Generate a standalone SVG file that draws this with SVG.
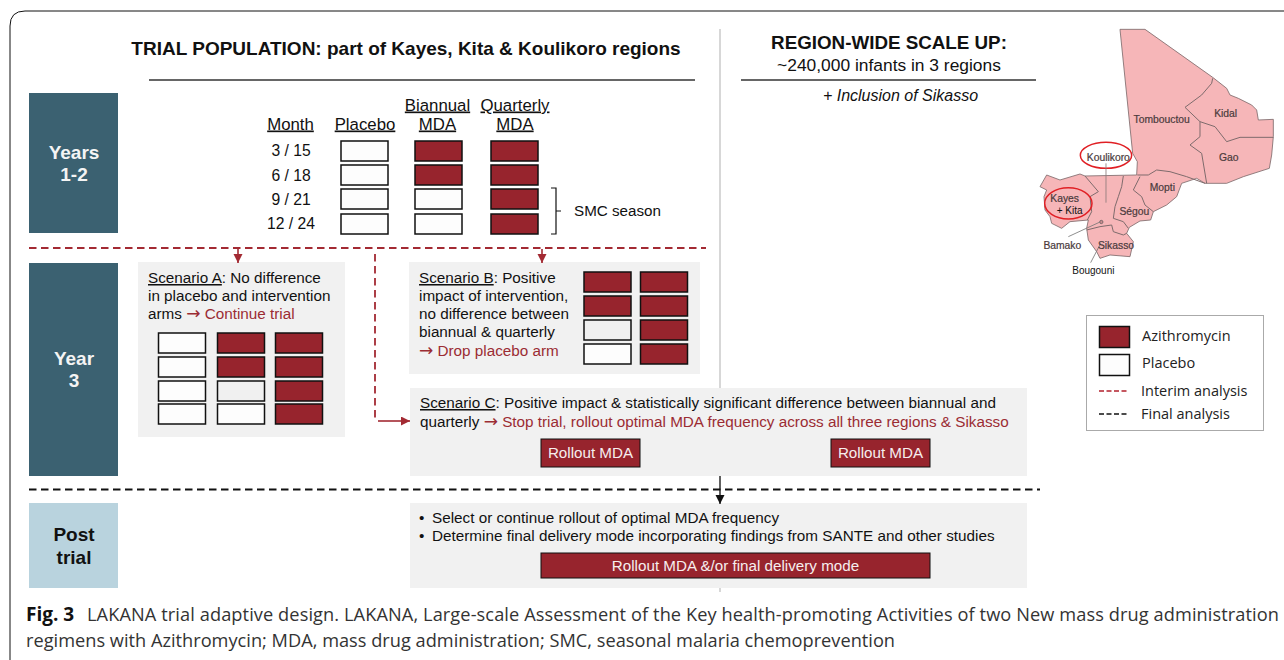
<svg xmlns="http://www.w3.org/2000/svg" width="1284" height="660" viewBox="0 0 1284 660">
<style>
text{font-family:"Liberation Sans",Arial,sans-serif;fill:#111}
.c{text-anchor:middle}
.t{font-size:16.800px}
.n{font-size:15.700px}
.s{font-size:15.280px}
.red{fill:#9b2c33}
.ar{font-family:"DejaVu Sans",sans-serif;font-size:17px}
.az{fill:#97242d;stroke:#111;stroke-width:1.5}
.pl{fill:#fdfdfd;stroke:#111;stroke-width:1.5}
.pg{fill:#f0f0f0;stroke:#111;stroke-width:1.5}
.panel{fill:#f1f1f1}
.dash{fill:none;stroke:#a32a33;stroke-width:1.8;stroke-dasharray:7.500 4.500}
.arr{fill:none;stroke:#a32a33;stroke-width:1.6}
.side{font-size:19px;font-weight:bold}
.btn{fill:#97242d;stroke:#111;stroke-width:1}
.btnt{fill:#f6eeee;font-size:15.200px;text-anchor:middle}
.cap{font-family:"Open Sans","Noto Sans",sans-serif;font-size:18.200px;fill:#333}
.leg{font-family:"Open Sans","Noto Sans",sans-serif;font-size:14.500px;fill:#222}
.m{font-size:31px;fill:#4a3a3c;text-anchor:middle;stroke:#4a3a3c;stroke-width:.6}
.mk{font-size:30px;fill:#111;text-anchor:middle}
.bd{fill:none;stroke:#7d6a6b;stroke-width:3}
</style>
<defs>
<marker id="ar" markerWidth="10" markerHeight="10" refX="9" refY="4.500" orient="auto" markerUnits="userSpaceOnUse"><path d="M0 0L9 4.500L0 9z" fill="#a32a33"/></marker>
<marker id="ak" markerWidth="10" markerHeight="10" refX="9" refY="4.500" orient="auto" markerUnits="userSpaceOnUse"><path d="M0 0L9 4.500L0 9z" fill="#111"/></marker>
</defs>
<rect width="1284" height="660" fill="#fff"/>
<path d="M10 660V26Q10 11 25 11H1284" fill="none" stroke="#111" stroke-width="1"/>

<g id="header-left">
<text x="406" y="55" class="c" style="font-size:19px;font-weight:bold">TRIAL POPULATION: part of Kayes, Kita &amp; Koulikoro regions</text>
<line x1="149" y1="80" x2="695" y2="80" stroke="#333" stroke-width="1.500"/>
</g>
<g id="header-right">
<text x="889" y="49" class="c" style="font-size:18.800px;font-weight:bold">REGION-WIDE SCALE UP:</text>
<text x="889" y="70.500" class="c" style="font-size:17.400px">~240,000 infants in 3 regions</text>
<line x1="741" y1="80" x2="1036" y2="80" stroke="#333" stroke-width="1.500"/>
<text x="900.500" y="100.500" class="c" style="font-size:16px;font-style:italic">+ Inclusion of Sikasso</text>
</g>
<line id="divider" x1="720" y1="29" x2="720" y2="592" stroke="#bdbdbd" stroke-width="1.200"/>

<g id="years12"><rect x="29" y="93" width="89" height="140" fill="#3b6171"/><text x="74" y="159" class="c side" style="fill:#f4f4f4">Years</text><text x="74" y="181" class="c side" style="fill:#f4f4f4">1-2</text></g>
<g id="year3"><rect x="29" y="263" width="89" height="213" fill="#3b6171"/><text x="74" y="365" class="c side" style="fill:#f4f4f4">Year</text><text x="74" y="387" class="c side" style="fill:#f4f4f4">3</text></g>
<g id="posttrial"><rect x="29" y="503" width="89" height="85" fill="#b9d3de"/><text x="74" y="541" class="c side">Post</text><text x="74" y="564" class="c side">trial</text></g>

<g id="arms-table">
<text x="290.500" y="129.500" class="c t" text-decoration="underline">Month</text>
<text x="365" y="129.500" class="c t" text-decoration="underline">Placebo</text>
<text x="437.500" y="110.500" class="c t" text-decoration="underline">Biannual</text>
<text x="437.500" y="129.500" class="c t" text-decoration="underline">MDA</text>
<text x="515" y="110.500" class="c t" text-decoration="underline">Quarterly</text>
<text x="515" y="129.500" class="c t" text-decoration="underline">MDA</text>
<text x="291" y="155.500" class="c n">3 / 15</text><text x="291" y="180.500" class="c n">6 / 18</text><text x="291" y="204.500" class="c n">9 / 21</text><text x="291" y="228.500" class="c n">12 / 24</text>
<rect class="pl" x="341" y="141" width="47" height="20"/><rect class="pl" x="341" y="165" width="47" height="20"/><rect class="pl" x="341" y="189" width="47" height="20"/><rect class="pl" x="341" y="214" width="47" height="20"/>
<rect class="az" x="415" y="141" width="47" height="20"/><rect class="az" x="415" y="165" width="47" height="20"/><rect class="pl" x="415" y="189" width="47" height="20"/><rect class="pl" x="415" y="214" width="47" height="20"/>
<rect class="az" x="491" y="141" width="47" height="20"/><rect class="az" x="491" y="165" width="47" height="20"/><rect class="az" x="491" y="189" width="47" height="20"/><rect class="az" x="491" y="214" width="47" height="20"/>
<path d="M551 188H556V234H551M556 211H561" fill="none" stroke="#111" stroke-width="1.200"/>
<text x="574" y="216" style="font-size:15.200px">SMC season</text>
</g>

<g id="scenario-a">
<rect class="panel" x="138" y="262" width="207" height="175"/>
<text x="148" y="283" class="s"><tspan text-decoration="underline">Scenario A</tspan>: No difference</text>
<text x="148" y="301" class="s">in placebo and intervention</text>
<text x="148" y="319" class="s">arms <tspan class="red ar">→</tspan><tspan class="red"> Continue trial</tspan></text>
<rect class="pl" x="158.500" y="333" width="47" height="20"/><rect class="pl" x="158.500" y="357" width="47" height="20"/><rect class="pl" x="158.500" y="381" width="47" height="20"/><rect class="pl" x="158.500" y="404" width="47" height="20"/>
<rect class="az" x="217.500" y="333" width="47" height="20"/><rect class="az" x="217.500" y="357" width="47" height="20"/><rect class="pg" x="217.500" y="381" width="47" height="20"/><rect class="pl" x="217.500" y="404" width="47" height="20"/>
<rect class="az" x="275.500" y="333" width="47" height="20"/><rect class="az" x="275.500" y="357" width="47" height="20"/><rect class="az" x="275.500" y="381" width="47" height="20"/><rect class="az" x="275.500" y="404" width="47" height="20"/>
</g>

<g id="scenario-b">
<rect class="panel" x="409" y="262" width="291" height="112"/>
<text x="419" y="283" class="s"><tspan text-decoration="underline">Scenario B</tspan>: Positive</text>
<text x="419" y="301" class="s">impact of intervention,</text>
<text x="419" y="319" class="s">no difference between</text>
<text x="419" y="337" class="s">biannual &amp; quarterly</text>
<text x="419" y="356" class="s"><tspan class="red ar">→</tspan><tspan class="red"> Drop placebo arm</tspan></text>
<rect class="az" x="584" y="272" width="47" height="20"/><rect class="az" x="584" y="296" width="47" height="20"/><rect class="pg" x="584" y="320" width="47" height="20"/><rect class="pl" x="584" y="344" width="47" height="20"/>
<rect class="az" x="640.500" y="272" width="47" height="20"/><rect class="az" x="640.500" y="296" width="47" height="20"/><rect class="az" x="640.500" y="320" width="47" height="20"/><rect class="az" x="640.500" y="344" width="47" height="20"/>
</g>

<g id="scenario-c">
<rect class="panel" x="410" y="388" width="617" height="88"/>
<text x="420" y="408" class="s"><tspan text-decoration="underline">Scenario C</tspan>: Positive impact &amp; statistically significant difference between biannual and</text>
<text x="420" y="427" class="s">quarterly <tspan class="red ar">→</tspan><tspan class="red"> Stop trial, rollout optimal MDA frequency across all three regions &amp; Sikasso</tspan></text>
<rect class="btn" x="541" y="439" width="99" height="28"/><text x="590.500" y="458" class="btnt">Rollout MDA</text>
<rect class="btn" x="831" y="439" width="99" height="28"/><text x="880.500" y="458" class="btnt">Rollout MDA</text>
</g>

<g id="post-panel">
<rect class="panel" x="410" y="503" width="617" height="85"/>
<text x="419" y="523" class="s">•</text><text x="432" y="523" class="s">Select or continue rollout of optimal MDA frequency</text>
<text x="419" y="541" class="s">•</text><text x="432" y="541" class="s">Determine final delivery mode incorporating findings from SANTE and other studies</text>
<rect class="btn" x="541" y="553" width="389" height="25"/><text x="735.500" y="571" class="btnt">Rollout MDA &amp;/or final delivery mode</text>
</g>

<g id="connectors">
<line class="dash" x1="29" y1="248" x2="706" y2="248"/>
<path class="arr" d="M238 249V263" marker-end="url(#ar)"/>
<path class="arr" d="M542 249V263" marker-end="url(#ar)"/>
<path class="dash" d="M375 254V421"/>
<path class="arr" d="M378 421H410" marker-end="url(#ar)"/>
<line x1="29" y1="489.500" x2="1040" y2="489.500" stroke="#111" stroke-width="1.800" stroke-dasharray="7.500 4.500"/>
<path d="M720 476V504" fill="none" stroke="#111" stroke-width="1.200" marker-end="url(#ak)"/>
</g>

<g id="map" transform="translate(1030 20) scale(.33333)">
<path fill="#f6b6b8" stroke="#7d6a6b" stroke-width="2.500" stroke-linejoin="round" d="M270 28H345L548 172L590 205L600 225L625 235L665 255L680 270L685 300L730 298V350L725 405L718 445L640 470L590 490H525L500 475L455 490L440 530L410 555L370 575L362 600L330 603L298 622L290 640L310 665L300 710L240 705L210 715L200 695L175 660L170 625L175 600L120 605L95 625L65 610L60 590L45 570L42 530L50 510L30 500L50 465L90 480L150 462L165 468L320 465L322 425L308 400Z"/>
<path class="bd" d="M548 175L545 190L515 225L465 262L510 305L555 320L590 365L630 352H730M510 305V350L480 375L515 400L530 490M322 465L355 465L380 450L420 455L470 470L525 490M330 470L310 510L335 530L345 555L370 575M280 468L275 500L265 530L255 560L250 595L280 605L295 625M170 630L210 620L245 615L250 635L280 645L290 640M165 468L205 515L180 530L185 575L172 600"/>
<ellipse cx="228" cy="406" rx="77" ry="39" fill="none" stroke="#e01f24" stroke-width="4.500"/>
<line x1="228" y1="430" x2="228" y2="548" stroke="#8a7a7b" stroke-width="2.500"/>
<ellipse cx="115" cy="550" rx="71" ry="47" fill="none" stroke="#e01f24" stroke-width="4.500"/>
<circle cx="214" cy="606" r="5" fill="#c98c8f" stroke="#555" stroke-width="2"/>
<path d="M210 606L115 650M212 670L182 728" stroke="#777" stroke-width="2.500" fill="none"/>
<text x="395" y="309" class="m">Tombouctou</text><text x="587" y="290" class="m">Kidal</text><text x="596" y="424" class="m">Gao</text>
<text x="235" y="422" class="m">Koulikoro</text><text x="397" y="514" class="m">Mopti</text><text x="313" y="586" class="m">Ségou</text>
<text x="104" y="546" class="m">Kayes</text><text x="119" y="582" class="mk">+ Kita</text>
<text x="258" y="686" class="m">Sikasso</text><text x="97" y="686" class="m">Bamako</text>
<text x="190" y="761" class="mk">Bougouni</text>
</g>

<g id="legend">
<rect x="1086.500" y="315.500" width="177" height="115" fill="#fff" stroke="#aaa"/>
<rect class="az" x="1099.500" y="326.500" width="30" height="21"/><text x="1142" y="341" class="leg">Azithromycin</text>
<rect class="pl" x="1099.500" y="354.500" width="30" height="21"/><text x="1142" y="368" class="leg">Placebo</text>
<line x1="1099" y1="391" x2="1129" y2="391" stroke="#b3202c" stroke-width="1.300" stroke-dasharray="5 2.500"/><text x="1141" y="396" class="leg">Interim analysis</text>
<line x1="1099" y1="414" x2="1129" y2="414" stroke="#111" stroke-width="1.300" stroke-dasharray="5 2.500"/><text x="1141" y="419" class="leg">Final analysis</text>
</g>

<g id="caption">
<text x="26" y="621" class="cap" font-weight="bold" style="fill:#111;font-size:19px">Fig. 3</text>
<text x="87" y="621" class="cap" textLength="1192">LAKANA trial adaptive design. LAKANA, Large-scale Assessment of the Key health-promoting Activities of two New mass drug administration</text>
<text x="26" y="646.500" class="cap" textLength="869">regimens with Azithromycin; MDA, mass drug administration; SMC, seasonal malaria chemoprevention</text>
</g>
</svg>
